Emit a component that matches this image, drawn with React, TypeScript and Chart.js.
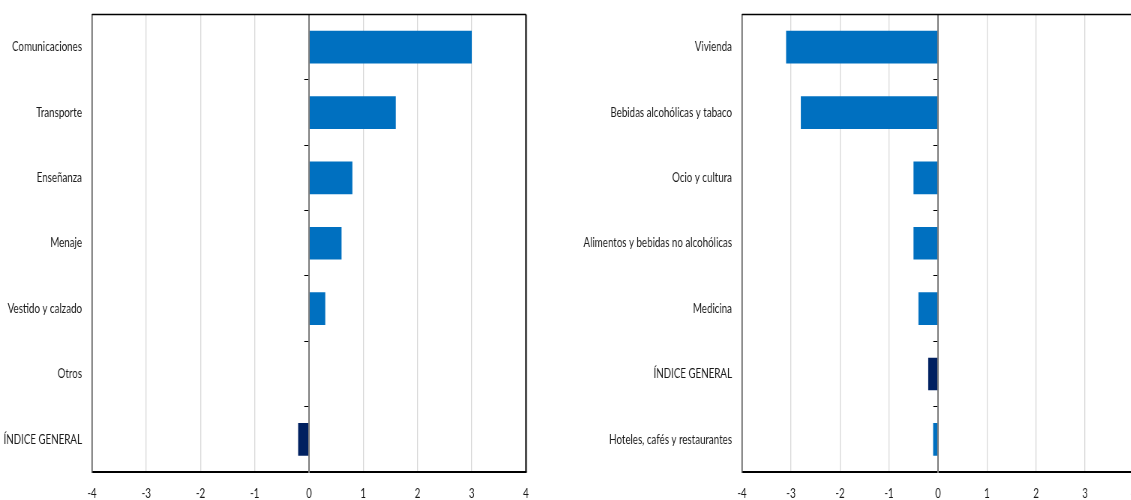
import React, { useEffect, useRef } from "react";
import { Chart, registerables } from "chart.js";

Chart.register(...registerables);

const leftCategories = [
  "Comunicaciones",
  "Transporte",
  "Enseñanza",
  "Menaje",
  "Vestido y calzado",
  "Otros",
  "ÍNDICE GENERAL",
];
const leftValues = [3.0, 1.6, 0.8, 0.6, 0.3, 0, -0.2];

const rightCategories = [
  "Vivienda",
  "Bebidas alcohólicas y tabaco",
  "Ocio y cultura",
  "Alimentos y bebidas no alcohólicas",
  "Medicina",
  "ÍNDICE GENERAL",
  "Hoteles, cafés y restaurantes",
];
const rightValues = [-3.1, -2.8, -0.5, -0.5, -0.4, -0.2, -0.1];

const xMin = -4;
const xMax = 4;
const xStep = 1;

const BLUE = "#0070C0";
const NAVY = "#002060";
const HIGHLIGHT = "ÍNDICE GENERAL";
const FONT_FAMILY = "Lato, 'Liberation Sans', sans-serif";
const TEXT_COLOR = "#1a1a1a";
const SX = 0.75; // horizontal squeeze of the whole figure

const framePlugin = {
  id: "frame",
  afterDraw(chart: any) {
    const { ctx, chartArea } = chart;
    const { left, right, top, bottom } = chartArea;
    ctx.save();
    ctx.strokeStyle = "#000";
    ctx.lineWidth = 1.5;
    ctx.beginPath();
    ctx.moveTo(left, top);
    ctx.lineTo(right, top);
    ctx.stroke();
    ctx.lineWidth = 1.5 / SX;
    ctx.beginPath();
    ctx.moveTo(right, top);
    ctx.lineTo(right, bottom);
    ctx.stroke();
    ctx.restore();
  },
};

type PanelProps = {
  categories: string[];
  values: number[];
  screenLeft: number;
  plotLeft: number;
  plotRight: number;
  screenWidth: number;
};

function Panel({ categories, values, screenLeft, plotLeft, plotRight, screenWidth }: PanelProps) {
  const ref = useRef<HTMLCanvasElement | null>(null);
  const width = Math.round(screenWidth / SX);
  const height = 500;
  const axisWidth = (plotLeft - screenLeft) / SX;
  const padRight = width - (plotRight - screenLeft) / SX;
  useEffect(() => {
    if (!ref.current) return;
    const font = { family: FONT_FAMILY, size: 13 };
    const chart = new Chart(ref.current, {
      type: "bar",
      data: {
        labels: categories,
        datasets: [
          {
            data: values,
            backgroundColor: categories.map((c) => (c === HIGHLIGHT ? NAVY : BLUE)),
            borderWidth: 0,
            barPercentage: 0.5,
            categoryPercentage: 1,
            xAxisID: "x",
            yAxisID: "y",
          },
        ],
      },
      options: {
        indexAxis: "y",
        responsive: false,
        animation: false,
        layout: { padding: { top: 14.5, right: padRight, left: 0, bottom: 0 } },
        plugins: { legend: { display: false }, tooltip: { enabled: false } },
        scales: {
          x: {
            type: "linear",
            position: "bottom",
            min: xMin,
            max: xMax,
            ticks: { stepSize: xStep, padding: 14, font, color: TEXT_COLOR },
            grid: {
              color: (ctx: any) => (ctx.tick && ctx.tick.value === 0 ? "#7f7f7f" : "#d9d9d9"),
              drawTicks: false,
              lineWidth: (ctx: any) => (ctx.tick && ctx.tick.value === 0 ? 1.5 / SX : 1 / SX),
            },
            border: { display: true, color: "#000", width: 2 },
            afterFit: (s: any) => {
              s.height = 28;
            },
          },
          y: {
            type: "category",
            position: "left",
            ticks: { padding: 10 / SX, font, color: TEXT_COLOR },
            grid: { display: false, drawTicks: false },
            border: { display: true, color: "#595959", width: 1.2 / SX },
            afterFit: (s: any) => {
              s.width = axisWidth;
              s.paddingTop = 0;
              s.paddingBottom = 0;
            },
          },
          y0: {
            type: "category",
            axis: "y",
            position: { x: 0 },
            labels: categories,
            offset: true,
            ticks: { display: false },
            grid: {
              drawOnChartArea: false,
              drawTicks: true,
              tickLength: 4 / SX,
              tickColor: "#000",
              offset: true,
            },
            border: { display: true, color: "#7f7f7f", width: 1.5 / SX },
            afterFit: (s: any) => {
              s.paddingTop = 0;
              s.paddingBottom = 0;
            },
          },
        },
      } as any,
      plugins: [framePlugin],
    });
    return () => chart.destroy();
  }, []);
  return (
    <div
      style={{
        position: "absolute",
        left: screenLeft,
        top: 0,
        width,
        height,
        transform: `scaleX(${SX})`,
        transformOrigin: "0 0",
      }}
    >
      <canvas ref={ref} width={width} height={height} style={{ display: "block" }} />
    </div>
  );
}

export default function App() {
  return (
    <div
      style={{
        position: "fixed",
        left: 0,
        top: 0,
        width: 1131,
        height: 500,
        overflow: "hidden",
        background: "#fff",
      }}
    >
      <Panel
        categories={leftCategories}
        values={leftValues}
        screenLeft={0}
        plotLeft={92}
        plotRight={526}
        screenWidth={545}
      />
      <Panel
        categories={rightCategories}
        values={rightValues}
        screenLeft={560}
        plotLeft={742}
        plotRight={1134}
        screenWidth={600}
      />
    </div>
  );
}
